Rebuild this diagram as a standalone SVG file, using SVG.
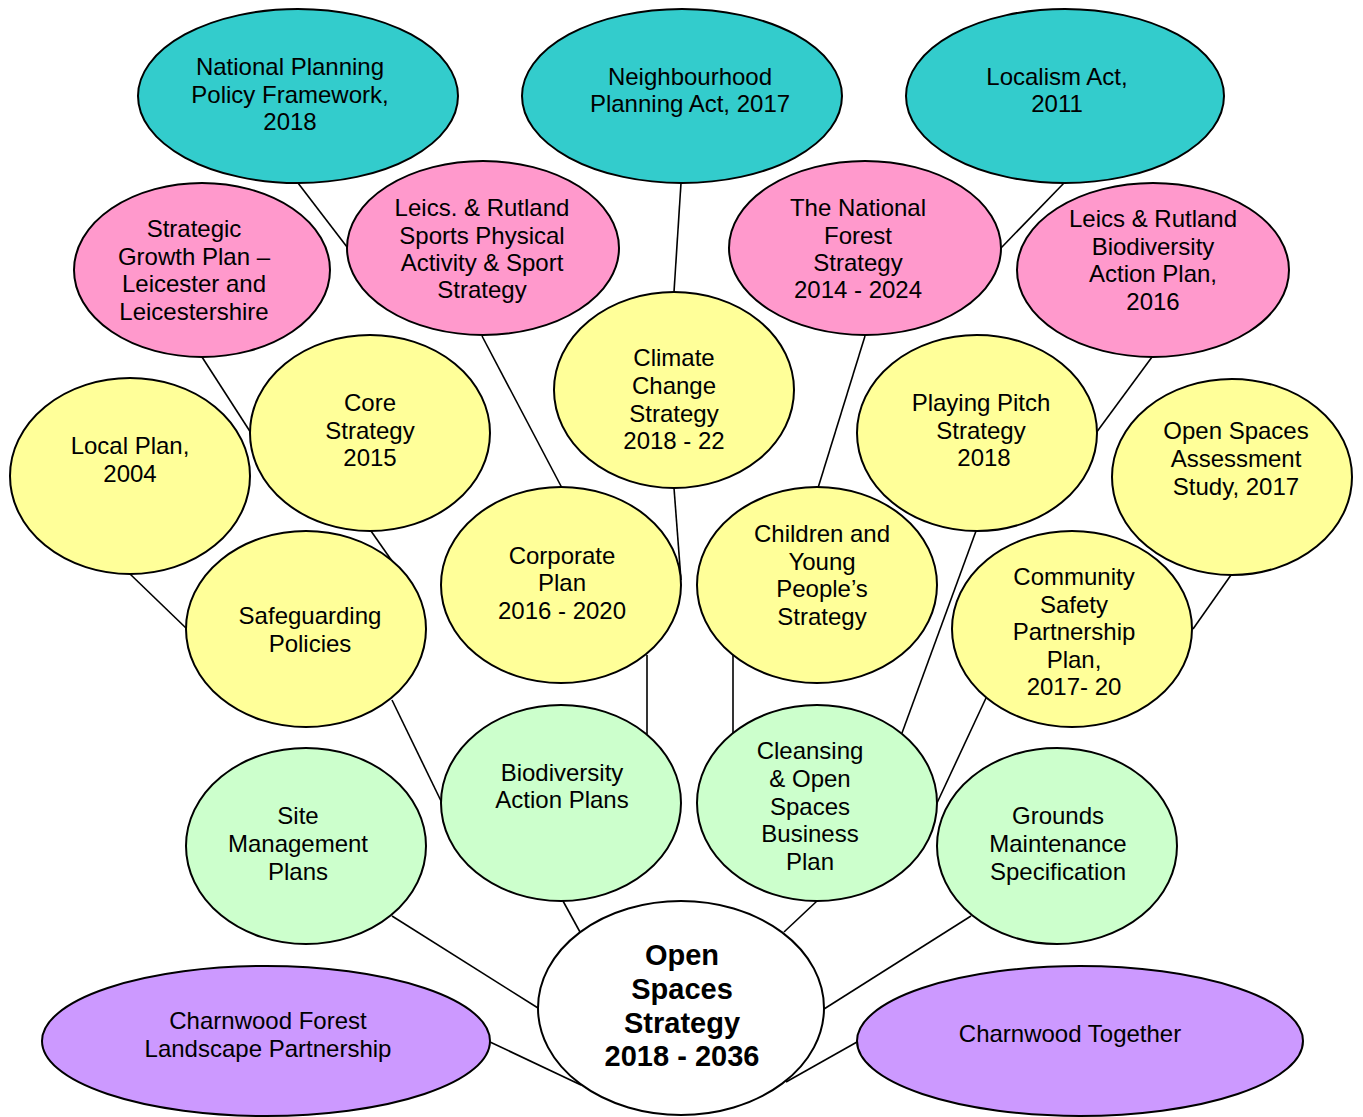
<svg xmlns="http://www.w3.org/2000/svg" width="1363" height="1117" viewBox="0 0 1363 1117">
<style>
.n{stroke:#000;stroke-width:2}
.teal{fill:#33CCCC}.pink{fill:#FF99CC}.yel{fill:#FFFF99}.grn{fill:#CCFFCC}.pur{fill:#CC99FF}.wht{fill:#FFFFFF}
text{font-family:"Liberation Sans",Arial,sans-serif;font-size:24px;fill:#000;text-anchor:middle}
.b{font-weight:bold;font-size:29px}
.c line{stroke:#000;stroke-width:1.6}
</style>
<rect width="1363" height="1117" fill="#fff"/>
<g class="c" id="connectors">
<line x1="298" y1="183" x2="347" y2="247"/>
<line x1="681" y1="183" x2="674" y2="292"/>
<line x1="1064" y1="183" x2="1001" y2="248"/>
<line x1="202" y1="357" x2="251" y2="433"/>
<line x1="482" y1="336" x2="562" y2="488"/>
<line x1="865" y1="336" x2="818" y2="488"/>
<line x1="1152" y1="357" x2="1096" y2="433"/>
<line x1="130" y1="574" x2="187" y2="629"/>
<line x1="371" y1="531" x2="392" y2="561"/>
<line x1="674" y1="488" x2="681" y2="580"/>
<line x1="976" y1="531" x2="902" y2="733"/>
<line x1="1231" y1="575" x2="1193" y2="629"/>
<line x1="392" y1="700" x2="442" y2="803"/>
<line x1="647" y1="655" x2="647" y2="734"/>
<line x1="733" y1="654" x2="733" y2="734"/>
<line x1="986" y1="698" x2="937" y2="803"/>
<line x1="392" y1="916" x2="538" y2="1008"/>
<line x1="563" y1="901" x2="580" y2="932"/>
<line x1="817" y1="901" x2="784" y2="932"/>
<line x1="971" y1="916" x2="824" y2="1009"/>
<line x1="490" y1="1042" x2="581" y2="1085"/>
<line x1="857" y1="1042" x2="786" y2="1082"/>
</g>
<g id="nppf"><ellipse class="n teal" cx="298" cy="96" rx="160" ry="87"/><text x="290" y="75">National Planning</text><text x="290" y="103">Policy Framework,</text><text x="290" y="130">2018</text></g>
<g id="neighbourhood"><ellipse class="n teal" cx="682" cy="96" rx="160" ry="87"/><text x="690" y="85">Neighbourhood</text><text x="690" y="112">Planning Act, 2017</text></g>
<g id="localism"><ellipse class="n teal" cx="1065" cy="96" rx="159" ry="87"/><text x="1057" y="85">Localism Act,</text><text x="1057" y="112">2011</text></g>
<g id="strategic-growth"><ellipse class="n pink" cx="202" cy="270" rx="128" ry="87"/><text x="194" y="237">Strategic</text><text x="194" y="265">Growth Plan –</text><text x="194" y="292">Leicester and</text><text x="194" y="320">Leicestershire</text></g>
<g id="sports"><ellipse class="n pink" cx="483" cy="248" rx="136" ry="87"/><text x="482" y="216">Leics. &amp; Rutland</text><text x="482" y="244">Sports Physical</text><text x="482" y="271">Activity &amp; Sport</text><text x="482" y="298">Strategy</text></g>
<g id="national-forest"><ellipse class="n pink" cx="865" cy="248" rx="136" ry="87"/><text x="858" y="216">The National</text><text x="858" y="244">Forest</text><text x="858" y="271">Strategy</text><text x="858" y="298">2014 - 2024</text></g>
<g id="leics-biodiversity"><ellipse class="n pink" cx="1153" cy="270" rx="136" ry="87"/><text x="1153" y="227">Leics &amp; Rutland</text><text x="1153" y="255">Biodiversity</text><text x="1153" y="282">Action Plan,</text><text x="1153" y="310">2016</text></g>
<g id="local-plan"><ellipse class="n yel" cx="130" cy="476" rx="120" ry="98"/><text x="130" y="454">Local Plan,</text><text x="130" y="482">2004</text></g>
<g id="core-strategy"><ellipse class="n yel" cx="370" cy="433" rx="120" ry="98"/><text x="370" y="411">Core</text><text x="370" y="439">Strategy</text><text x="370" y="466">2015</text></g>
<g id="climate"><ellipse class="n yel" cx="674" cy="390" rx="120" ry="98"/><text x="674" y="366">Climate</text><text x="674" y="394">Change</text><text x="674" y="422">Strategy</text><text x="674" y="449">2018 - 22</text></g>
<g id="playing-pitch"><ellipse class="n yel" cx="977" cy="433" rx="120" ry="98"/><text x="981" y="411">Playing Pitch</text><text x="981" y="439">Strategy</text><text x="984" y="466">2018</text></g>
<g id="open-spaces-assessment"><ellipse class="n yel" cx="1232" cy="477" rx="120" ry="98"/><text x="1236" y="439">Open Spaces</text><text x="1236" y="467">Assessment</text><text x="1236" y="495">Study, 2017</text></g>
<g id="safeguarding"><ellipse class="n yel" cx="306" cy="629" rx="120" ry="98"/><text x="310" y="624">Safeguarding</text><text x="310" y="652">Policies</text></g>
<g id="corporate"><ellipse class="n yel" cx="561" cy="585" rx="120" ry="98"/><text x="562" y="564">Corporate</text><text x="562" y="591">Plan</text><text x="562" y="619">2016 - 2020</text></g>
<g id="children"><ellipse class="n yel" cx="817" cy="585" rx="120" ry="98"/><text x="822" y="542">Children and</text><text x="822" y="570">Young</text><text x="822" y="597">People’s</text><text x="822" y="625">Strategy</text></g>
<g id="community-safety"><ellipse class="n yel" cx="1072" cy="629" rx="120" ry="98"/><text x="1074" y="585">Community</text><text x="1074" y="613">Safety</text><text x="1074" y="640">Partnership</text><text x="1074" y="668">Plan,</text><text x="1074" y="695">2017- 20</text></g>
<g id="site-management"><ellipse class="n grn" cx="306" cy="846" rx="120" ry="98"/><text x="298" y="824">Site</text><text x="298" y="852">Management</text><text x="298" y="880">Plans</text></g>
<g id="biodiversity-action"><ellipse class="n grn" cx="561" cy="803" rx="120" ry="98"/><text x="562" y="781">Biodiversity</text><text x="562" y="808">Action Plans</text></g>
<g id="cleansing"><ellipse class="n grn" cx="817" cy="803" rx="120" ry="98"/><text x="810" y="759">Cleansing</text><text x="810" y="787">&amp; Open</text><text x="810" y="815">Spaces</text><text x="810" y="842">Business</text><text x="810" y="870">Plan</text></g>
<g id="grounds"><ellipse class="n grn" cx="1057" cy="846" rx="120" ry="98"/><text x="1058" y="824">Grounds</text><text x="1058" y="852">Maintenance</text><text x="1058" y="880">Specification</text></g>
<g id="open-spaces-strategy"><ellipse class="n wht" cx="681" cy="1008" rx="143" ry="107"/><text class="b" x="682" y="965">Open</text><text class="b" x="682" y="999">Spaces</text><text class="b" x="682" y="1033">Strategy</text><text class="b" x="682" y="1066">2018 - 2036</text></g>
<g id="charnwood-forest"><ellipse class="n pur" cx="266" cy="1041" rx="224" ry="75"/><text x="268" y="1029">Charnwood Forest</text><text x="268" y="1057">Landscape Partnership</text></g>
<g id="charnwood-together"><ellipse class="n pur" cx="1080" cy="1041" rx="223" ry="75"/><text x="1070" y="1042">Charnwood Together</text></g>
</svg>
